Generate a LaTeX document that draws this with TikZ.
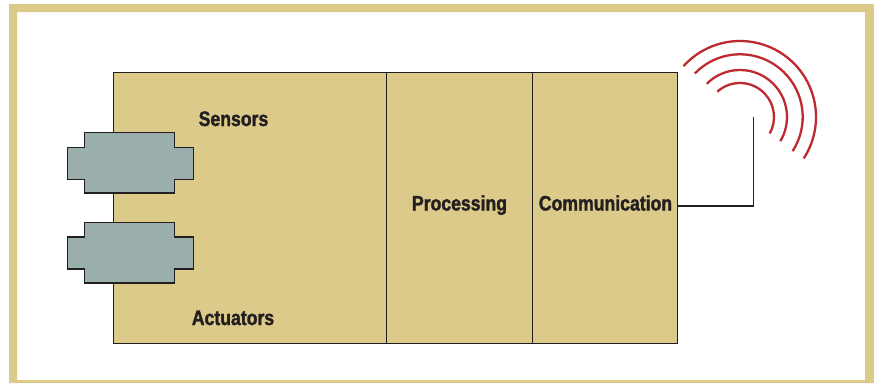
\documentclass[tikz,border=0pt]{standalone}
\usepackage{fontspec}
\setmainfont[FakeStretch=0.84,BoldFeatures={FakeBold=1.5}]{Liberation Sans}
\definecolor{tan}{HTML}{DBCA8A}
\definecolor{slab}{HTML}{9AAFAC}
\definecolor{wave}{HTML}{BE2A30}
\definecolor{ink}{HTML}{231F20}
\tikzset{
  block/.style={draw=ink,line width=1.1pt,fill=tan,minimum height=271pt,inner sep=0pt,anchor=north west},
  lbl/.style={font=\bfseries\fontsize{21}{24}\selectfont,text=ink,inner sep=0pt,anchor=base},
  port/.style={draw=ink,line width=1.1pt,fill=slab,line join=miter},
  link/.style={draw=ink,line width=1.1pt},
  arc wave/.style={draw=wave,line width=2.3pt}
}
\begin{document}
\begin{tikzpicture}[x=1pt,y=-1pt]
\useasboundingbox (0,0) rectangle (874,383);
\fill[white] (0,0) rectangle (874,383);
\fill[tan,even odd rule] (9,4) rectangle (874,383) (17,12) rectangle (865,380);
% blocks
\node[block,minimum width=273pt] (sense) at (112.8,72) {};
\node[block,minimum width=146pt] (proc) at (385.8,72) {};
\node[block,minimum width=145.5pt] (comm) at (531.8,72) {};
\node[lbl] (lsens) at (233.5,126) {Sensors};
\node[lbl] (lact) at (233,325) {Actuators};
\node[lbl] (lproc) at (459.5,210.5) {Processing};
\node[lbl] (lcomm) at (605.5,210.5) {Communication};
% ports
\draw[port] (84.6,132.7) -- (174.6,132.7) -- (174.6,147.3) -- (193.2,147.3) -- (193.2,179.5) -- (174.6,179.5) -- (174.6,193) -- (84.6,193) -- (84.6,179.5) -- (67.5,179.5) -- (67.5,147.3) -- (84.6,147.3) -- cycle;
\draw[port] (84.6,222.7) -- (174.6,222.7) -- (174.6,237) -- (193.2,237) -- (193.2,269) -- (174.6,269) -- (174.6,283) -- (84.6,283) -- (84.6,269) -- (67.5,269) -- (67.5,237) -- (84.6,237) -- cycle;
% antenna
\coordinate (tip) at (753.3,117);
\coordinate (elbow) at (753.3,206);
\draw[link] (comm.east |- elbow) -- (elbow) -- (tip);
% waves
\coordinate (wc) at (740,117);
\foreach \r/\a/\b in {76/138/-33,62.7/136/-33,47/135/-31,34/132/-29}{
  \draw[arc wave,x=1pt,y=1pt] (wc) ++(\a:\r) arc[start angle=\a,end angle=\b,radius=\r];
}
\end{tikzpicture}
\end{document}
